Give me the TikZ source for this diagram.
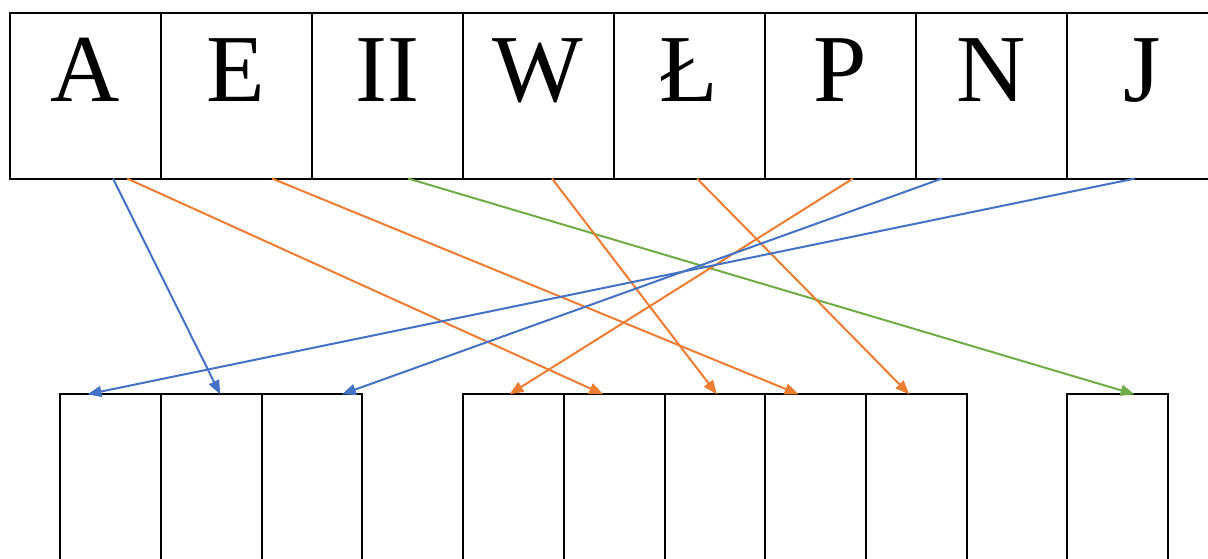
\documentclass[tikz,border=0pt]{standalone}
\usepackage{fontspec}
\setmainfont{Liberation Serif}
\usetikzlibrary{arrows.meta}
\definecolor{cblue}{HTML}{4472C4}
\definecolor{corange}{HTML}{ED7D31}
\definecolor{cgreen}{HTML}{70AD47}
\tikzset{
  topbox/.style={draw=black, line width=2pt, minimum width=151pt, minimum height=166pt, inner sep=0pt, outer sep=0pt},
  botbox/.style={draw=black, line width=2pt, minimum width=100.7pt, minimum height=170pt, inner sep=0pt, outer sep=0pt, anchor=north},
  letter/.style={anchor=base, inner sep=0pt, font=\fontsize{96}{96}\selectfont},
  conn/.style={line width=2pt, -{Triangle[length=14pt,width=11pt]}},
}
\begin{document}
\begin{tikzpicture}[x=1pt,y=-1pt]
\clip (0,0) rectangle (1208,558);
\fill[white] (0,0) rectangle (1208,558);
% top row
\foreach \i/\name/\txt in {0/t1/A,1/t2/E,2/t3/II,3/t4/W,4/t5/Ł,5/t6/P,6/t7/N,7/t8/J}{
  \node[topbox] (\name) at ({85+151*\i},95.5) {};
  \node[letter] (\name l) at ({85+151*\i},101.5) {\txt};
}
% bottom boxes
\node[botbox] (b1) at (110.5,394.3) {};
\node[botbox] (b2) at (211.2,394.3) {};
\node[botbox] (b3) at (311.9,394.3) {};
\node[botbox] (b4) at (513.5,394.3) {};
\node[botbox] (b5) at (614.2,394.3) {};
\node[botbox] (b6) at (714.9,394.3) {};
\node[botbox] (b7) at (815.6,394.3) {};
\node[botbox] (b8) at (916.3,394.3) {};
\node[botbox] (b9) at (1117.5,394.3) {};
% connectors
\draw[conn, cblue]   ([xshift=28pt]t1.south) -- ([xshift=9pt]b2.north);
\draw[conn, corange] ([xshift=42pt]t1.south) -- ([xshift=-11pt]b5.north);
\draw[conn, corange] ([xshift=36pt]t2.south) -- ([xshift=-17pt]b7.north);
\draw[conn, cgreen]  ([xshift=21pt]t3.south) -- ([xshift=17pt]b9.north);
\draw[conn, corange] ([xshift=14pt]t4.south) -- ([xshift=2pt]b6.north);
\draw[conn, corange] ([xshift=8pt]t5.south) -- ([xshift=-7pt]b8.north);
\draw[conn, corange] ([xshift=13pt]t6.south) -- ([xshift=-4pt]b4.north);
\draw[conn, cblue]   ([xshift=-49pt]t7.south) -- ([xshift=30pt]b3.north);
\draw[conn, cblue]   ([xshift=-7pt]t8.south) -- ([xshift=-23pt]b1.north);
\end{tikzpicture}
\end{document}
